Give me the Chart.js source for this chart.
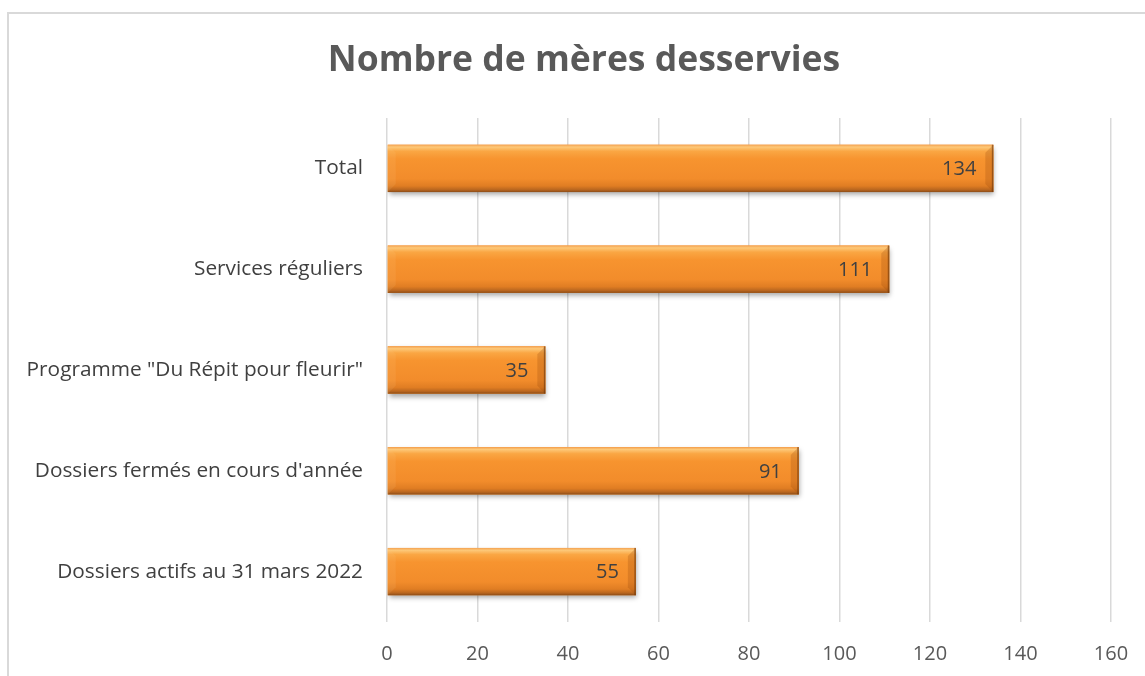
<!DOCTYPE html>
<html>
<head>
<meta charset="utf-8">
<script src="https://cdn.jsdelivr.net/npm/chart.js@4/dist/chart.umd.min.js"></script>
<style>
    html, body { margin: 0; padding: 0; background: #fff; overflow: hidden; }
    #wrap { position: relative; width: 1145px; height: 676px; }
    #frame { position: absolute; left: 7px; top: 12px; width: 1160px; height: 700px; border: 2px solid #d9d9d9; box-sizing: border-box; }
    canvas { position: absolute; left: 0; top: 0; }
</style>
</head>
<body>
<div id="wrap">
    <div id="frame"></div>
    <canvas id="meresChart" width="1145" height="676"></canvas>
</div>
<script>
const chartTitle = 'Nombre de mères desservies';
const categories = [
    'Total',
    'Services réguliers',
    'Programme "Du Répit pour fleurir"',
    "Dossiers fermés en cours d'année",
    'Dossiers actifs au 31 mars 2022'
];
const meresValues = [134, 111, 35, 91, 55];
const xTicks = [0, 20, 40, 60, 80, 100, 120, 140, 160];

const FONT = "'Open Sans', Carlito, Calibri, sans-serif";

// shadow under the bars
const shadowPlugin = {
    id: 'barShadow',
    beforeDatasetDraw(chart) {
        const ctx = chart.ctx;
        ctx.save();
        ctx.shadowColor = 'rgba(0,0,0,0.35)';
        ctx.shadowBlur = 5;
        ctx.shadowOffsetX = 1;
        ctx.shadowOffsetY = 3;
    },
    afterDatasetDraw(chart) {
        chart.ctx.restore();
    }
};

// title is off-centre in the original (chart was cropped), so draw it here
const titlePlugin = {
    id: 'offsetTitle',
    afterDraw(chart) {
        const ctx = chart.ctx;
        ctx.save();
        ctx.fillStyle = '#595959';
        ctx.font = 'bold 35.5px ' + FONT;
        ctx.textAlign = 'center';
        ctx.textBaseline = 'middle';
        ctx.fillText(chartTitle, 584, 61);
        ctx.restore();
    }
};

// bevel look + value labels
const bevelPlugin = {
    id: 'bevel',
    afterDatasetsDraw(chart) {
        const ctx = chart.ctx;
        const meta = chart.getDatasetMeta(0);
        meta.data.forEach((bar, i) => {
            const p = bar.getProps(['x', 'y', 'base', 'height'], true);
            const left = Math.min(p.base, p.x);
            const right = Math.max(p.base, p.x);
            const top = p.y - p.height / 2;
            const bottom = p.y + p.height / 2;
            const b = 8;

            ctx.save();
            const g = ctx.createLinearGradient(0, top, 0, bottom);
            g.addColorStop(0, '#F4A150');
            g.addColorStop(0.05, '#FDC878');
            g.addColorStop(0.14, '#FAA643');
            g.addColorStop(0.3, '#F7942F');
            g.addColorStop(0.72, '#F28C2B');
            g.addColorStop(0.87, '#E07D23');
            g.addColorStop(0.95, '#B9661F');
            g.addColorStop(1, '#8C4C17');
            ctx.fillStyle = g;
            ctx.fillRect(left, top, right - left, bottom - top);

            // left end bevel
            ctx.beginPath();
            ctx.moveTo(left, top);
            ctx.lineTo(left + b, top + b);
            ctx.lineTo(left + b, bottom - b);
            ctx.lineTo(left, bottom);
            ctx.closePath();
            ctx.fillStyle = 'rgba(255,205,140,0.12)';
            ctx.fill();

            // right end bevel
            ctx.beginPath();
            ctx.moveTo(right, top);
            ctx.lineTo(right - b, top + b);
            ctx.lineTo(right - b, bottom - b);
            ctx.lineTo(right, bottom);
            ctx.closePath();
            ctx.fillStyle = 'rgba(150,70,10,0.25)';
            ctx.fill();
            ctx.fillStyle = 'rgba(110,55,10,0.6)';
            ctx.fillRect(right - 1.5, top, 1.5, bottom - top);

            // value label
            ctx.fillStyle = '#404040';
            ctx.font = '20px ' + FONT;
            ctx.textAlign = 'right';
            ctx.textBaseline = 'middle';
            ctx.fillText(meresValues[i], right - 17, p.y + 1);
            ctx.restore();
        });
    }
};

document.addEventListener('DOMContentLoaded', function() {
    const ctx = document.getElementById('meresChart').getContext('2d');
    new Chart(ctx, {
        type: 'bar',
        data: {
            labels: categories,
            datasets: [{
                label: 'Nombre de mères',
                data: meresValues,
                backgroundColor: '#F7932F',
                borderWidth: 0,
                categoryPercentage: 1,
                barPercentage: 0.47
            }]
        },
        options: {
            indexAxis: 'y',
            responsive: false,
            animation: false,
            layout: { padding: { left: 0, right: 34, top: 118, bottom: 0 } },
            plugins: {
                legend: { display: false },
                tooltip: { enabled: false },
                title: { display: false }
            },
            scales: {
                x: {
                    min: 0,
                    max: 160,
                    afterBuildTicks: function(scale) {
                        scale.ticks = xTicks.map(v => ({ value: v }));
                    },
                    afterFit: function(scale) {
                        scale.height = 54;
                        scale.paddingLeft = 0;
                        scale.paddingRight = 0;
                    },
                    grid: { color: '#d9d9d9', lineWidth: 1.5, drawTicks: false },
                    border: { display: false },
                    ticks: {
                        color: '#595959',
                        padding: 20,
                        font: { family: FONT, size: 20 }
                    }
                },
                y: {
                    afterFit: function(scale) {
                        scale.width = 387;
                        scale.paddingTop = 0;
                        scale.paddingBottom = 0;
                    },
                    grid: { display: false, drawTicks: false },
                    border: { display: false },
                    ticks: {
                        color: '#404040',
                        padding: 24,
                        font: { family: FONT, size: 20.8 }
                    }
                }
            }
        },
        plugins: [shadowPlugin, bevelPlugin, titlePlugin]
    });
});
</script>
</body>
</html>
